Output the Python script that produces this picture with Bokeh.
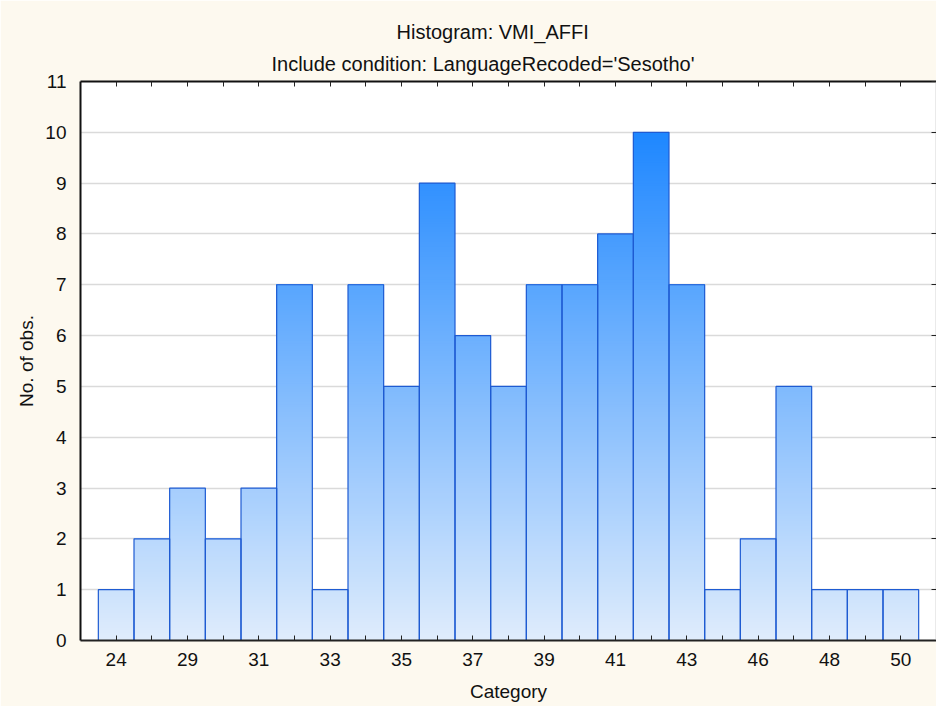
import numpy as np
from bokeh.plotting import figure
from bokeh.models import FixedTicker, LinearAxis, Range1d, Title, ColumnDataSource
from bokeh.embed import file_html
from bokeh.resources import INLINE

# ---- data ----
tick_labels = ["24", "", "29", "", "31", "", "33", "", "35", "", "37", "",
               "39", "", "41", "", "43", "", "46", "", "48", "", "50"]
counts = [1, 2, 3, 2, 3, 7, 1, 7, 5, 9, 6, 5, 7, 7, 8, 10, 7, 1, 2, 5, 1, 1, 1]
y_ticks = list(range(0, 12))

FONT = "Liberation Sans"
CREAM = "#FDF9EF"
FS = "19px"
TFS = "20px"

n = len(counts)
pos = np.arange(1, n + 1)

p = figure(width=936, height=706, output_backend="svg", toolbar_location=None,
           title=None,
           x_range=Range1d(0, n + 1), y_range=Range1d(0, 11),
           min_border_left=80, min_border_right=0, min_border_top=81,
           min_border_bottom=66)
p.border_fill_color = CREAM
p.background_fill_color = "white"
p.outline_line_color = None

xa = p.below[0]
ya = p.left[0]

# top axis (added first so it hugs the frame)
ta = LinearAxis(ticker=FixedTicker(ticks=list(pos)))
ta.major_label_text_font_size = "0px"
ta.major_label_standoff = 0
ta.major_tick_in = 5
ta.major_tick_out = 0
ta.minor_tick_line_color = None
ta.axis_line_color = "#111111"
ta.axis_line_width = 2
ta.major_tick_line_color = "#222222"
p.add_layout(ta, "above")

# titles
t2 = Title(text="Include condition: LanguageRecoded='Sesotho'", align="left",
           text_font=FONT, text_font_size=TFS, text_font_style="normal",
           text_color="#111111", offset=191, standoff=13)
t1 = Title(text="Histogram: VMI_AFFI", align="left",
           text_font=FONT, text_font_size=TFS, text_font_style="normal",
           text_color="#111111", offset=316, standoff=4)
p.add_layout(t2, "above")
p.add_layout(t1, "above")

# gradient bars: painter's algorithm slices
step = 0.05
lefts, rights, bottoms, tops, colors = [], [], [], [], []
c0 = np.array([223, 236, 252])
c1 = np.array([30, 135, 255])
for x, c in zip(pos, counts):
    k = 0
    while k * step < c - 1e-9:
        b = k * step
        t = min(10.0, b + step / 2) / 10.0
        col = c0 + (c1 - c0) * t
        lefts.append(x - 0.5)
        rights.append(x + 0.5)
        bottoms.append(b)
        tops.append(c)
        colors.append("#%02x%02x%02x" % tuple(int(round(v)) for v in col))
        k += 1
src = ColumnDataSource(dict(left=lefts, right=rights, bottom=bottoms, top=tops, color=colors))
p.quad(left="left", right="right", bottom="bottom", top="top", source=src,
       fill_color="color", line_color=None)

# outlines
p.quad(left=pos - 0.5, right=pos + 0.5, bottom=0, top=counts,
       fill_color=None, line_color="#1E5BD2", line_width=1.2)

# grid
p.xgrid.visible = False
p.ygrid.ticker = FixedTicker(ticks=y_ticks)
p.ygrid.grid_line_color = "#DADADA"
p.ygrid.grid_line_width = 1.5

# bottom axis
xa.ticker = FixedTicker(ticks=list(pos))
xa.major_label_overrides = {int(i): lab for i, lab in zip(pos, tick_labels)}
xa.major_tick_in = 5
xa.major_tick_out = 0
xa.minor_tick_line_color = None
xa.axis_line_color = "#222222"
xa.axis_line_width = 2
xa.major_tick_line_color = "#222222"
xa.major_label_text_font = FONT
xa.major_label_text_font_size = FS
xa.major_label_text_color = "#111111"
xa.major_label_standoff = 12
xa.axis_label = "Category"
xa.axis_label_text_font = FONT
xa.axis_label_text_font_size = FS
xa.axis_label_text_font_style = "normal"
xa.axis_label_text_color = "#111111"
xa.axis_label_standoff = 12

# left axis
ya.ticker = FixedTicker(ticks=y_ticks)
ya.major_tick_in = 0
ya.major_tick_out = 0
ya.minor_tick_line_color = None
ya.axis_line_color = "#111111"
ya.axis_line_width = 2
ya.major_label_text_font = FONT
ya.major_label_text_font_size = FS
ya.major_label_text_color = "#111111"
ya.major_label_standoff = 14
ya.axis_label = "No. of obs."
ya.axis_label_text_font = FONT
ya.axis_label_text_font_size = FS
ya.axis_label_text_font_style = "normal"
ya.axis_label_text_color = "#111111"
ya.axis_label_standoff = 5

# right axis
ra = LinearAxis(ticker=FixedTicker(ticks=y_ticks))
ra.major_label_text_font_size = "0px"
ra.major_label_standoff = 0
ra.major_tick_in = 5
ra.major_tick_out = 0
ra.minor_tick_line_color = None
ra.axis_line_color = "#AAAAAA"
ra.axis_line_width = 1.5
ra.major_tick_line_color = "#222222"
p.add_layout(ra, "right")

html = file_html(p, INLINE)
html = html.replace("<body>", '<body style="background-color:%s">' % CREAM, 1)
open("out.html", "w").write(html)
